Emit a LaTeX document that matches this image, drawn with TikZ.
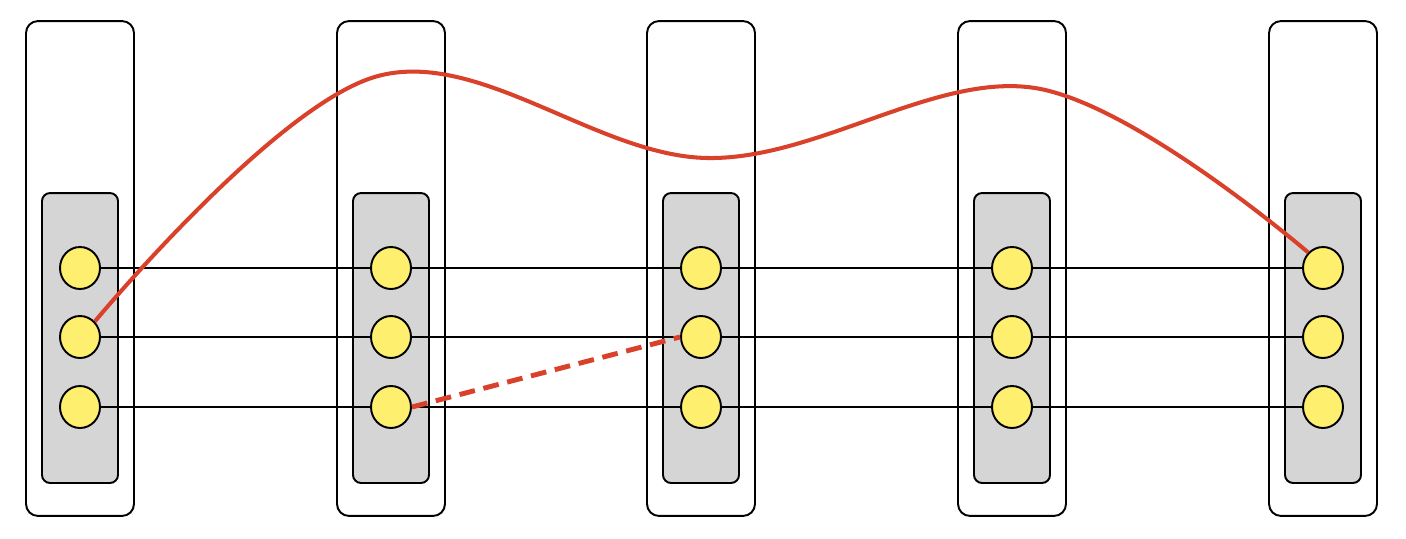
\documentclass[tikz,border=0pt]{standalone}
\usetikzlibrary{shapes.geometric}
\definecolor{redc}{HTML}{D9412B}
\definecolor{yel}{HTML}{FFEF6E}
\definecolor{gr}{HTML}{D5D5D5}
\begin{document}
\begin{tikzpicture}[x=0.02cm,y=-0.02cm,
 outerbox/.style={draw,line width=1.1pt,rounded corners=0.24cm,minimum width=2.16cm,minimum height=9.9cm,inner sep=0},
 innerbox/.style={draw,fill=gr,line width=1.1pt,rounded corners=0.16cm,minimum width=1.52cm,minimum height=5.8cm,inner sep=0},
 dot/.style={ellipse,draw,fill=yel,line width=1.1pt,minimum width=0.8cm,minimum height=0.84cm,inner sep=0},
 link/.style={line width=1pt},
 redline/.style={draw=redc,line width=2.3pt}]
\useasboundingbox (0,0) rectangle (1406,538);
\foreach \i/\x in {1/80,2/391,3/701,4/1012,5/1323}{
 \node[outerbox] (o\i) at (\x,268.5) {};
 \node[innerbox] (g\i) at (\x,338) {};
}
\foreach \i/\x in {1/80,2/391,3/701,4/1012,5/1323}{
 \foreach \r/\y in {1/268,2/337,3/407}{
  \coordinate (c\i\r) at (\x,\y);
 }
}
\foreach \r in {1,2,3}{
 \draw[link] (c1\r) -- (c5\r);
}
\foreach \i/\x in {1/80,2/391,3/701,4/1012,5/1323}{
 \foreach \r/\y in {1/268,2/337,3/407}{
  \node[dot] (d\i\r) at (\x,\y) {};
 }
}
\coordinate (p1) at (378,76);
\coordinate (p2) at (707,158);
\coordinate (p3) at (1035,88);
\draw[redline] plot[smooth,tension=0.6] coordinates {(d12.north east) (p1) (p2) (p3) (d51.north west)};
\draw[redline,dashed,dash pattern=on 9pt off 5pt,line width=2.8pt] (d23.east) -- (d32.west);
\end{tikzpicture}
\end{document}
